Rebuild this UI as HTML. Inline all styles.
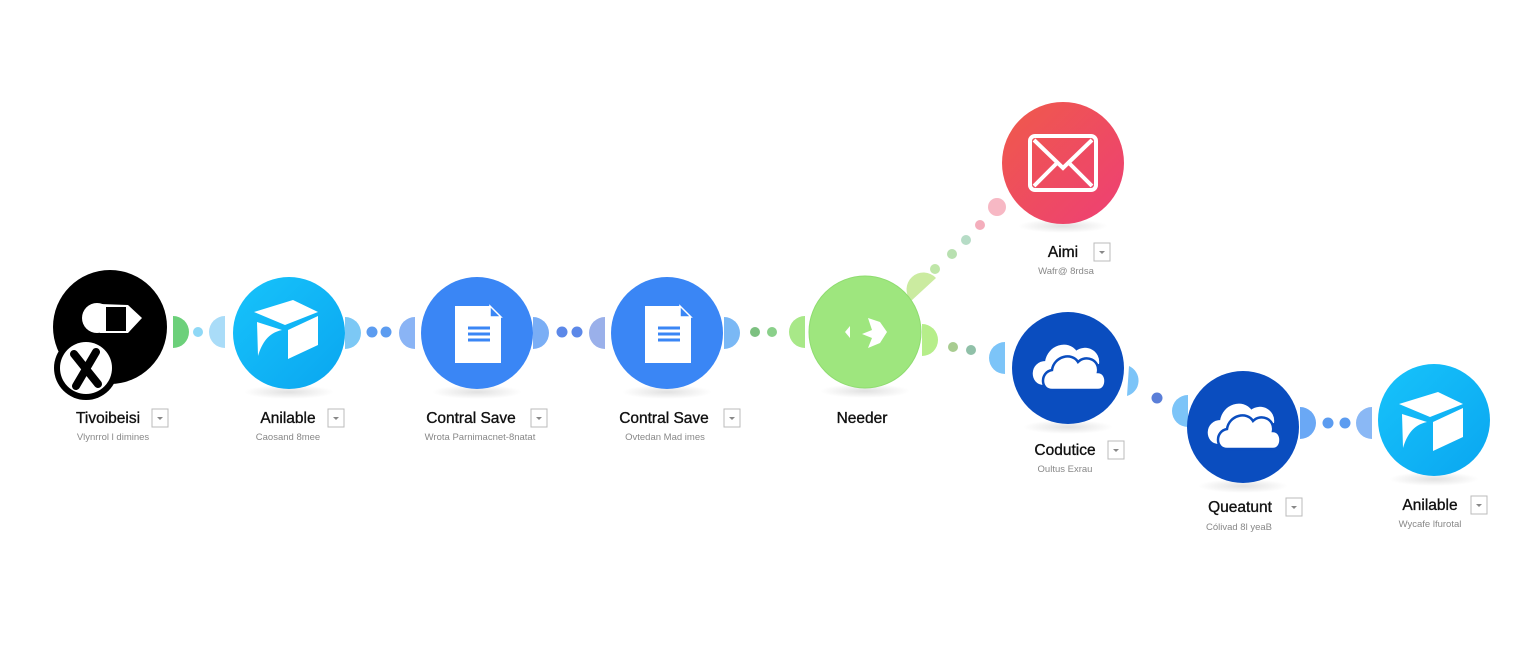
<!DOCTYPE html>
<html><head><meta charset="utf-8"><style>
html,body{margin:0;padding:0;background:#fff;}
svg text{font-family:"Liberation Sans",sans-serif;}
</style></head><body>
<svg width="1536" height="647" viewBox="0 0 1536 647" xmlns="http://www.w3.org/2000/svg">
<defs>
<linearGradient id="red" x1="0" y1="0" x2="1" y2="1"><stop offset="0" stop-color="#ef5a4a"/><stop offset="1" stop-color="#ee3f75"/></linearGradient>
<linearGradient id="cy" x1="0" y1="0" x2="1" y2="1"><stop offset="0" stop-color="#17c3fb"/><stop offset="1" stop-color="#0aa6f0"/></linearGradient>
<radialGradient id="sh" cx="0.5" cy="0.5" r="0.5"><stop offset="0" stop-color="#000" stop-opacity="0.12"/><stop offset="1" stop-color="#000" stop-opacity="0"/></radialGradient>
</defs>

<g fill="url(#sh)">
<ellipse cx="289" cy="392" rx="45" ry="7"/><ellipse cx="477" cy="392" rx="45" ry="7"/><ellipse cx="667" cy="392" rx="45" ry="7"/>
<ellipse cx="865" cy="391" rx="45" ry="7"/><ellipse cx="1063" cy="226" rx="45" ry="7"/><ellipse cx="1068" cy="427" rx="45" ry="7"/>
<ellipse cx="1243" cy="486" rx="45" ry="7"/><ellipse cx="1434" cy="479" rx="45" ry="7"/>
</g>

<path d="M173,316 A16,16 0 0 1 173,348 Z" fill="#6cd07a"/>
<circle cx="198" cy="332" r="5" fill="#8fd8f6"/>
<path d="M225,316 A16,16 0 0 0 225,348 Z" fill="#a9dcf8"/>

<path d="M345,317 A16,16 0 0 1 345,349 Z" fill="#7cc8f5"/>
<circle cx="372" cy="332" r="5.5" fill="#5c9cf0"/><circle cx="386" cy="332" r="5.5" fill="#5c9cf0"/>
<path d="M415,317 A16,16 0 0 0 415,349 Z" fill="#8ab4f5"/>

<path d="M533,317 A16,16 0 0 1 533,349 Z" fill="#7aaef5"/>
<circle cx="562" cy="332" r="5.5" fill="#5c88e8"/><circle cx="577" cy="332" r="5.5" fill="#5c88e8"/>
<path d="M605,317 A16,16 0 0 0 605,349 Z" fill="#9ab0ea"/>

<path d="M724,317 A16,16 0 0 1 724,349 Z" fill="#7ab8f5"/>
<circle cx="755" cy="332" r="5" fill="#7cc080"/><circle cx="772" cy="332" r="5" fill="#8ad08a"/>
<path d="M805,316 A16,16 0 0 0 805,348 Z" fill="#a8e888"/>

<path d="M911,301 A16,16 0 0 1 936,278 Z" fill="#cbeba0"/>
<circle cx="935" cy="269" r="5" fill="#bfe6a8"/><circle cx="952" cy="254" r="5" fill="#b8e0b0"/>
<circle cx="966" cy="240" r="5" fill="#b6dcc6"/><circle cx="980" cy="225" r="5" fill="#f4aebc"/>
<circle cx="997" cy="207" r="9" fill="#f7b8c4"/>

<path d="M922,324 A16,16 0 0 1 922,356 Z" fill="#b6ee8a"/>
<circle cx="953" cy="347" r="5" fill="#a8cc90"/><circle cx="971" cy="350" r="5" fill="#90c0a8"/>
<path d="M1005,342 A16,16 0 0 0 1005,374 Z" fill="#7cc4f8"/>

<path d="M1129,366 A16,16 0 0 1 1127,396 Z" fill="#7cc4f8"/>
<circle cx="1157" cy="398" r="5.5" fill="#5a7ed8"/>
<path d="M1188,395 A16,16 0 0 0 1188,427 Z" fill="#7cc4f8"/>

<path d="M1300,407 A16,16 0 0 1 1300,439 Z" fill="#6aa8f5"/>
<circle cx="1328" cy="423" r="5.5" fill="#5c9cf0"/><circle cx="1345" cy="423" r="5.5" fill="#5c9cf0"/>
<path d="M1372,407 A16,16 0 0 0 1372,439 Z" fill="#8ab8f5"/>

<circle cx="110" cy="327" r="57" fill="#000"/>
<circle cx="97" cy="318" r="15" fill="#fff"/>
<path d="M100,304 L128,305 L142,318 L128,333 L100,333 Z" fill="#fff"/>
<path d="M106,307 L126,307 L126,331 L106,331 Z" fill="#000"/>
<circle cx="86" cy="368" r="32" fill="#000"/>
<circle cx="86" cy="368" r="26" fill="#fff"/>
<path d="M74,354 L98,384 M96,352 L76,386" stroke="#000" stroke-width="8" stroke-linecap="round"/>

<circle cx="289" cy="333" r="56" fill="url(#cy)"/>
<g fill="#fff"><path d="M254,312 L293,300 L318,312 L285,325 Z"/><path d="M288,330 L318,316 L318,345 L288,359 Z"/><path d="M257,322 L282,330 C268,333 262,343 258,356 Z"/><path d="M272,307 L290,302 L296,306 L278,311Z"/></g>

<g>
<circle cx="477" cy="333" r="56" fill="#3a86f5"/>
<path d="M455,306 L490,306 L501,317 L501,363 L455,363 Z" fill="#fff"/>
<path d="M490,306 L490,317 L501,317 Z" fill="#3a86f5" stroke="#fff" stroke-width="1.5"/>
<g stroke="#3a86f5" stroke-width="3"><line x1="468" y1="328" x2="490" y2="328"/><line x1="468" y1="334" x2="490" y2="334"/><line x1="468" y1="340" x2="490" y2="340"/></g>
</g>
<g>
<circle cx="667" cy="333" r="56" fill="#3a86f5"/>
<path d="M645,306 L680,306 L691,317 L691,363 L645,363 Z" fill="#fff"/>
<path d="M680,306 L680,317 L691,317 Z" fill="#3a86f5" stroke="#fff" stroke-width="1.5"/>
<g stroke="#3a86f5" stroke-width="3"><line x1="658" y1="328" x2="680" y2="328"/><line x1="658" y1="334" x2="680" y2="334"/><line x1="658" y1="340" x2="680" y2="340"/></g>
</g>

<circle cx="865" cy="332" r="56" fill="#9ee67e" stroke="#8fdc70" stroke-width="1"/>
<path d="M850,326 L845,332 L850,338 Z" fill="#fff"/>
<path d="M868,318 L880,322 L887,332 L880,343 L868,348 L872,338 L862,334 L872,330 Z" fill="#fff"/>

<circle cx="1063" cy="163" r="61" fill="url(#red)"/>
<rect x="1030" y="136" width="66" height="54" rx="5" fill="none" stroke="#fff" stroke-width="4"/>
<path d="M1034,140 L1063,168 L1092,140 M1034,186 L1057,163 M1092,186 L1069,163" stroke="#fff" stroke-width="4" fill="none"/>

<g>
<circle cx="1068" cy="368" r="56" fill="#0a4dbf"/>
<path d="M1044,384 C1030,384 1030,362 1046,362 C1048,346 1068,340 1076,352 C1086,344 1100,352 1098,364" fill="#fff" stroke="#fff" stroke-width="2"/>
<path d="M1052,390 C1040,390 1040,372 1052,370 C1054,356 1072,352 1078,362 C1086,354 1100,360 1098,372 C1108,372 1108,390 1098,390 Z" fill="#fff" stroke="#0a4dbf" stroke-width="2.5"/>
</g>
<g>
<circle cx="1243" cy="427" r="56" fill="#0a4dbf"/>
<path d="M1219,443 C1205,443 1205,421 1221,421 C1223,405 1243,399 1251,411 C1261,403 1275,411 1273,423" fill="#fff" stroke="#fff" stroke-width="2"/>
<path d="M1227,449 C1215,449 1215,431 1227,429 C1229,415 1247,411 1253,421 C1261,413 1275,419 1273,431 C1283,431 1283,449 1273,449 Z" fill="#fff" stroke="#0a4dbf" stroke-width="2.5"/>
</g>

<circle cx="1434" cy="420" r="56" fill="url(#cy)"/>
<g fill="#fff"><path d="M1399,404 L1438,392 L1463,404 L1430,417 Z"/><path d="M1433,422 L1463,408 L1463,437 L1433,451 Z"/><path d="M1402,414 L1427,422 C1413,425 1407,435 1403,448 Z"/><path d="M1417,399 L1435,394 L1441,398 L1423,403Z"/></g>

<g font-size="15.5" fill="#111" text-anchor="middle" stroke="#111" stroke-width="0.35">
<text x="108" y="423">Tivoibeisi</text>
<text x="288" y="423">Anilable</text>
<text x="471" y="423">Contral Save</text>
<text x="664" y="423">Contral Save</text>
<text x="862" y="423">Needer</text>
<text x="1063" y="257">Aimi</text>
<text x="1065" y="455">Codutice</text>
<text x="1240" y="512">Queatunt</text>
<text x="1430" y="510">Anilable</text>
</g>
<g font-size="9.5" fill="#888" text-anchor="middle">
<text x="113" y="440">Vlynrrol l dimines</text>
<text x="288" y="440">Caosand 8mee</text>
<text x="480" y="440">Wrota Parnimacnet-8natat</text>
<text x="665" y="440">Ovtedan Mad imes</text>
<text x="1066" y="274">Wafr@ 8rdsa</text>
<text x="1065" y="472">Oultus Exrau</text>
<text x="1239" y="530">Cólivad 8l yeaB</text>
<text x="1430" y="527">Wycafe lfurotal</text>
</g>
<g fill="#fff" stroke="#bbb" stroke-width="1">
<rect x="152" y="409" width="16" height="18"/><rect x="328" y="409" width="16" height="18"/>
<rect x="531" y="409" width="16" height="18"/><rect x="724" y="409" width="16" height="18"/>
<rect x="1094" y="243" width="16" height="18"/><rect x="1108" y="441" width="16" height="18"/>
<rect x="1286" y="498" width="16" height="18"/><rect x="1471" y="496" width="16" height="18"/>
</g>
<g fill="#888">
<path d="M157,417 l6,0 l-3,3z"/><path d="M333,417 l6,0 l-3,3z"/><path d="M536,417 l6,0 l-3,3z"/><path d="M729,417 l6,0 l-3,3z"/>
<path d="M1099,251 l6,0 l-3,3z"/><path d="M1113,449 l6,0 l-3,3z"/><path d="M1291,506 l6,0 l-3,3z"/><path d="M1476,504 l6,0 l-3,3z"/>
</g>
</svg>
</body></html>
